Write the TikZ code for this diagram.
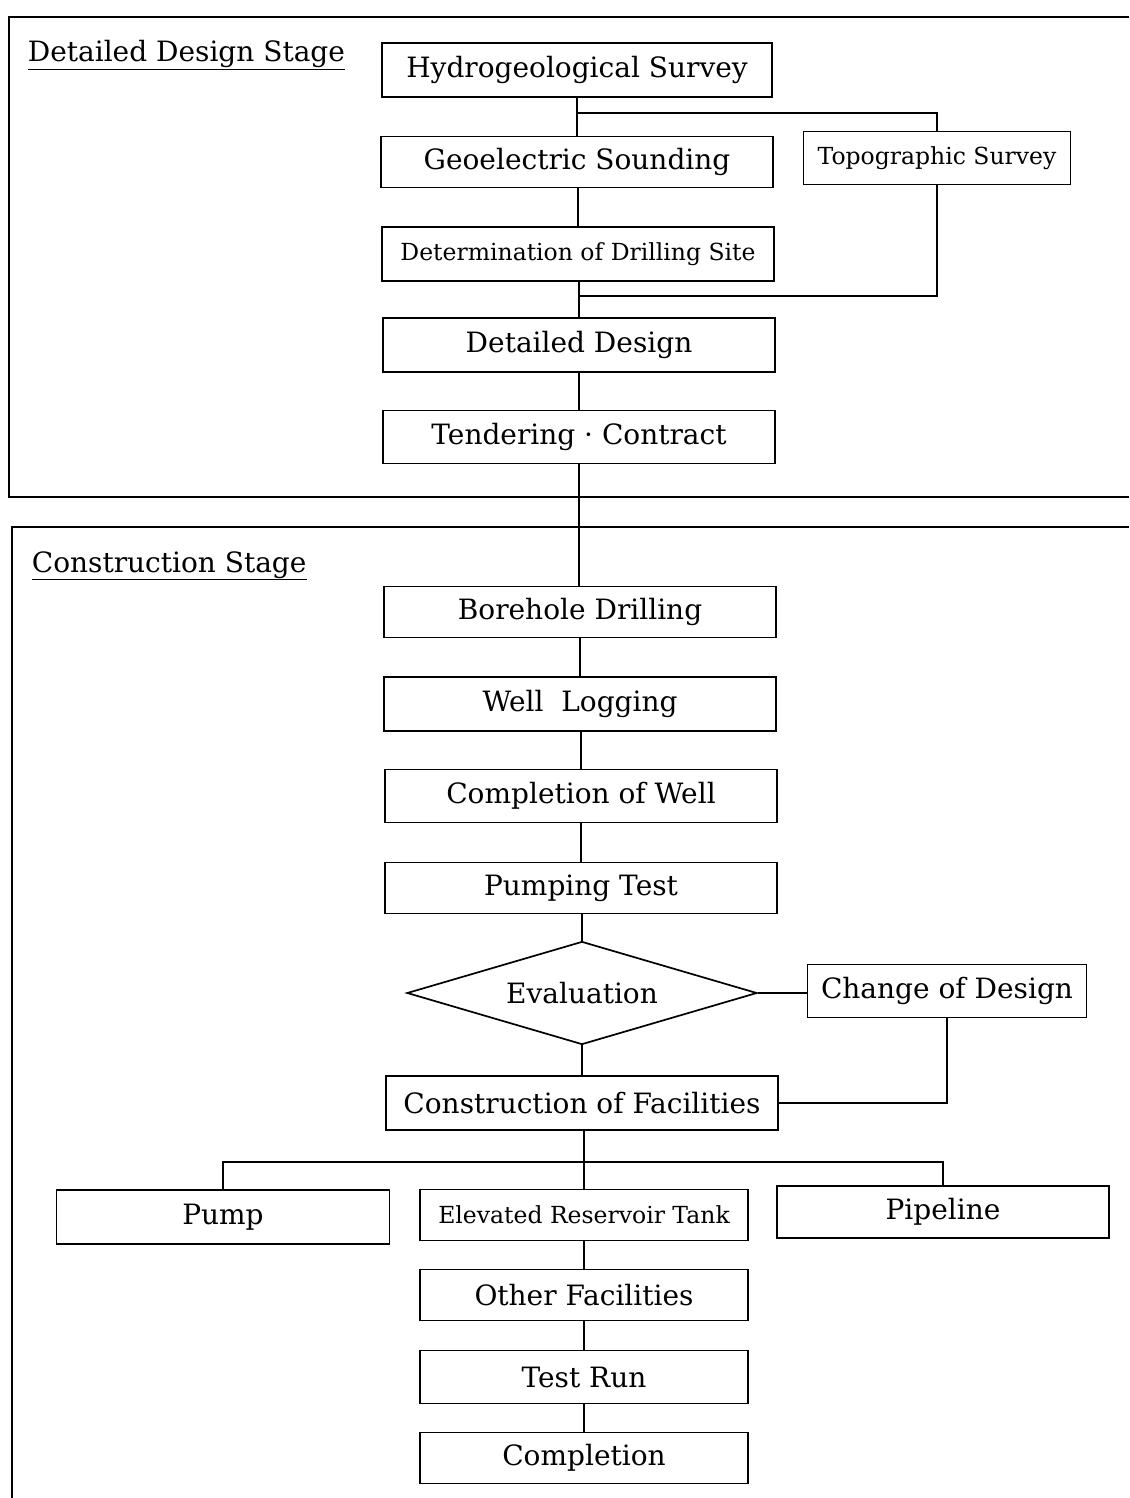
\documentclass[tikz,border=0pt]{standalone}
\usepackage{fontspec}
\setmainfont{DejaVu Serif}
\usetikzlibrary{shapes.geometric}

\begin{document}
\begin{tikzpicture}[x=1pt, y=-1pt, line width=1.7pt,
        stepbox/.style={draw, rectangle, inner sep=0pt, minimum width=392pt, minimum height=53pt, font=\fontsize{28}{32}\selectfont},
        subbox/.style={stepbox, minimum width=328pt, minimum height=52pt},
        smalltxt/.style={font=\fontsize{23.5}{27}\selectfont},
        stagetitle/.style={anchor=base west, inner sep=0pt, font=\fontsize{28}{32}\selectfont}]
        \useasboundingbox (0,0) rectangle (1129,1498);

        \draw (1129,17) -- (9,17) -- (9,497) -- (1129,497);
        \draw (1129,527) -- (12,527) -- (12,1498);

        \node[stagetitle] (detstage) at (27,62) {\underline{Detailed Design Stage}};
        \node[stagetitle] (conststage) at (31,572) {\underline{Construction Stage}};

        \node[stepbox, minimum width=390pt, minimum height=54pt] (hydro) at (577,70) {Hydrogeological Survey};
        \node[stepbox, minimum height=51pt] (geo) at (577,162) {Geoelectric Sounding};
        \node[stepbox, smalltxt, minimum width=267pt] (topo) at (937,158) {Topographic Survey};
        \node[stepbox, smalltxt, minimum height=54pt] (site) at (578,254) {Determination of Drilling Site};
        \node[stepbox, minimum height=54pt] (design) at (579,345) {Detailed Design};
        \node[stepbox] (tender) at (579,437) {Tendering · Contract};

        \node[stepbox, minimum height=51pt] (bore) at (580,612) {Borehole Drilling};
        \node[stepbox, minimum height=54pt] (logging) at (580,704) {Well\ \ Logging};
        \node[stepbox] (wellend) at (581,796) {Completion of Well};
        \node[stepbox, minimum height=51pt] (pumptest) at (581,888) {Pumping Test};
        \node[draw, diamond, aspect=3.4, inner sep=0pt, minimum width=350pt, minimum height=103pt, font=\fontsize{28}{32}\selectfont] (eval) at (582,993) {Evaluation};
        \node[stepbox, minimum width=279pt] (redesign) at (947,991) {Change of Design};
        \node[stepbox, minimum height=54pt] (facil) at (582,1103) {Construction of Facilities};

        \node[subbox, minimum width=333pt, minimum height=54pt] (pump) at (223,1217) {Pump};
        \node[subbox, smalltxt, minimum height=51pt] (tank) at (584,1215) {Elevated Reservoir Tank};
        \node[subbox, minimum width=332pt] (pipe) at (943,1212) {Pipeline};
        \node[subbox, minimum height=51pt] (other) at (584,1295) {Other Facilities};
        \node[subbox, minimum height=53pt] (testrun) at (584,1377) {Test Run};
        \node[subbox, minimum height=51pt] (done) at (584,1458) {Completion};

        \coordinate (fork) at (577,113);
        \coordinate (merge) at (579,296);
        \coordinate (split) at (584,1162);

        \draw (hydro) -- (geo);
        \draw (fork) -| (topo.north);
        \draw (geo.south -| site.north) -- (site.north);
        \draw (site.south -| design.north) -- (design.north);
        \draw (topo.south) |- (merge);
        \draw (design) -- (tender);
        \draw (tender.south) -- (tender.south |- bore.north);
        \draw (bore) -- (logging);
        \draw (logging.south -| wellend.north) -- (wellend.north);
        \draw (wellend) -- (pumptest);
        \draw (eval.north |- pumptest.south) -- (eval.north);
        \draw (eval.south) -- (eval.south |- facil.north);
        \draw (eval.east) -- (eval.east -| redesign.west);
        \draw (redesign.south) |- (facil.east);
        \draw (facil.south -| tank.north) -- (tank.north);
        \draw (pump.north) |- (split) -| (pipe.north);
        \draw (tank) -- (other);
        \draw (other) -- (testrun);
        \draw (testrun) -- (done);
    \end{tikzpicture}
\end{document}
